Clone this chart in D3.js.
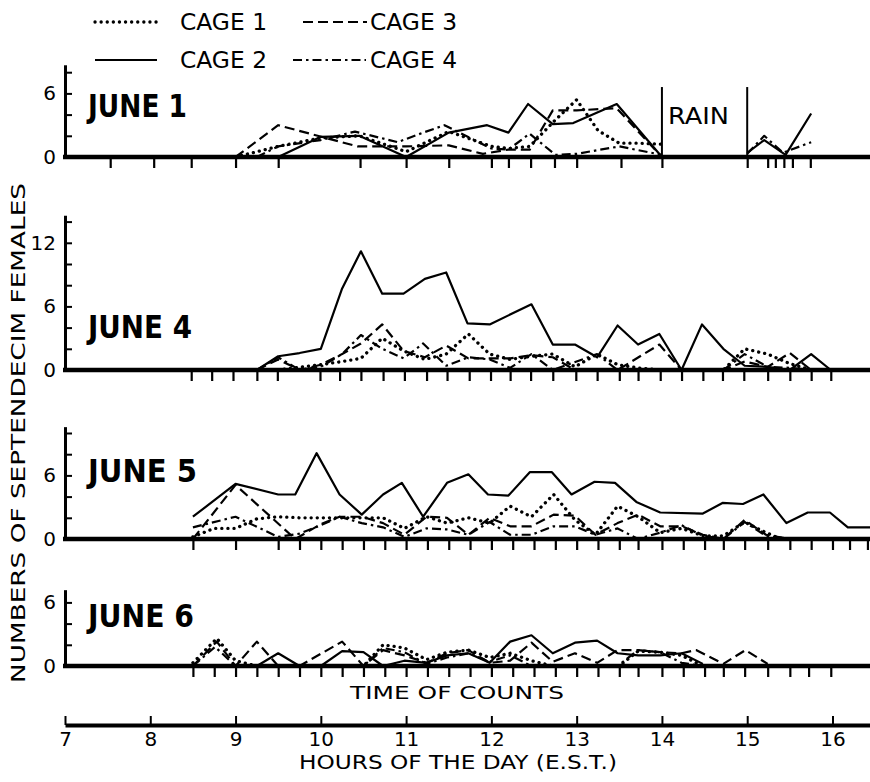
<!DOCTYPE html>
<html><head><meta charset="utf-8">
<script src="https://cdn.jsdelivr.net/npm/d3@7"></script>
<style>
html,body{margin:0;padding:0;background:#fff;}
svg{display:block;}
text{font-family:"DejaVu Sans",sans-serif;fill:#000;}
</style></head><body>
<svg id="chart" width="870" height="782"></svg>
<script>
// Hours of the day (E.S.T.) on the shared time axis
const hourTicks = [7, 8, 9, 10, 11, 12, 13, 14, 15, 16];
const days = ["JUNE 1", "JUNE 4", "JUNE 5", "JUNE 6"];
const cages = ["CAGE 1", "CAGE 2", "CAGE 3", "CAGE 4"];

// Times at which counts were taken on each day (decimal hours)
const countsJune1 = [7.53, 8.04, 8.48, 9.0, 9.5, 10.46, 11.0, 11.5, 12.0, 12.2, 12.46, 12.74, 13.0, 13.52, 14.0, 15.0, 15.24, 15.33, 15.43, 15.53, 15.74];
const countsJune4 = [8.48, 8.72, 8.97, 9.25, 9.49, 9.99, 10.22, 10.47, 10.73, 10.98, 11.24, 11.48, 11.74, 11.99, 12.22, 12.46, 12.72, 12.99, 13.24, 13.5, 13.72, 13.98, 14.23, 14.48, 14.71, 14.96, 15.24, 15.5, 15.75, 15.98];
const countsJune5 = [8.5, 9.0, 9.5, 9.75, 10.0, 10.25, 10.5, 10.75, 11.0, 11.25, 11.5, 11.75, 12.0, 12.25, 12.5, 12.75, 13.0, 13.25, 13.5, 13.72, 14.0, 14.25, 14.5, 14.72, 14.97, 15.24, 15.5, 15.75, 16.0, 16.2, 16.41];
const countsJune6 = [8.5, 8.75, 9.0, 9.25, 9.5, 9.75, 10.0, 10.25, 10.5, 10.75, 11.0, 11.25, 11.5, 11.75, 12.0, 12.25, 12.5, 12.75, 13.0, 13.25, 13.5, 13.72, 14.0, 14.25, 14.5, 14.72, 14.97, 15.24, 15.5, 15.72, 15.98];

// Females counted per cage: [hour, number]; null breaks the line (rain)
const june1Cage1 = [[9.0,0],[9.5,1.0],[10.0,1.8],[10.45,2.0],[11.0,0.5],[11.5,2.4],[12.0,1.0],[12.2,0.8],[12.45,1.0],[12.75,3.5],[13.0,5.4],[13.25,2.5],[13.5,1.3],[13.75,1.3],[14.0,1.2]];
const june1Cage2 = [[9.5,0],[10.0,1.9],[10.45,2.0],[11.0,0],[11.5,2.3],[11.95,3.0],[12.2,2.3],[12.43,5.0],[12.72,3.1],[12.96,3.2],[13.47,5.0],[14.0,0],[14.5,null],[15.0,0.4],[15.2,1.6],[15.45,0.2],[15.75,4.1]];
const june1Cage3 = [[9.0,0],[9.5,3.0],[10.43,1.0],[11.0,1.0],[11.5,1.1],[11.9,0.3],[12.2,0.7],[12.45,0.7],[12.72,4.4],[13.0,4.4],[13.47,4.6],[14.0,0]];
const june1Cage4 = [[9.25,0],[9.5,1.0],[10.0,1.6],[10.4,2.4],[10.9,1.4],[11.2,2.3],[11.45,3.0],[12.0,0.8],[12.2,0.7],[12.45,2.2],[12.75,0.2],[13.0,0.3],[13.5,1.0],[14.0,0.2],[14.5,null],[15.0,0.3],[15.2,2.0],[15.42,0.4],[15.75,1.4]];

const june4Cage1 = [[9.5,0],[10.0,0.5],[10.25,0.8],[10.47,1.1],[10.72,3.0],[10.97,1.8],[11.22,1.0],[11.47,1.5],[11.73,3.4],[11.98,1.5],[12.22,1.0],[12.47,1.3],[12.72,1.5],[12.98,0.3],[13.24,1.5],[13.48,0.5],[13.72,0.2],[13.97,0],[14.72,0],[14.97,2.0],[15.24,1.5],[15.5,0.6],[15.75,0]];
const june4Cage2 = [[9.25,0],[9.5,1.3],[9.75,1.6],[10.0,2.0],[10.25,7.7],[10.47,11.2],[10.72,7.2],[10.97,7.2],[11.22,8.6],[11.47,9.2],[11.72,4.4],[11.98,4.3],[12.47,6.2],[12.72,2.4],[12.98,2.4],[13.24,1.2],[13.48,4.2],[13.72,2.4],[13.97,3.4],[14.23,0],[14.47,4.3],[14.72,2.0],[14.97,0.4],[15.24,0.3],[15.5,0],[15.75,1.5],[15.98,0]];
const june4Cage3 = [[9.25,0],[9.5,1.0],[9.75,0],[10.0,0.5],[10.25,1.5],[10.47,2.5],[10.72,4.3],[10.97,1.8],[11.22,1.2],[11.47,2.3],[11.73,1.1],[12.22,1.1],[12.47,1.4],[12.72,1.2],[12.98,0],[13.48,0],[13.97,2.4],[14.23,0],[14.72,0],[14.97,0.8],[15.24,0.3],[15.5,1.6],[15.75,0]];
const june4Cage4 = [[9.25,0],[9.5,1.2],[9.75,0],[10.0,0.3],[10.25,1.5],[10.47,3.3],[10.72,2.0],[10.97,1.1],[11.2,2.5],[11.47,0.4],[11.73,1.2],[11.98,1.0],[12.22,0.2],[12.47,1.5],[12.72,0],[13.24,1.5],[13.48,0],[14.72,0],[14.97,1.5],[15.24,0.3],[15.5,0.2],[15.75,0]];

const june5Cage1 = [[8.5,0.2],[8.75,1.0],[9.0,1.0],[9.25,1.9],[9.5,2.1],[9.75,2.0],[10.0,2.0],[10.25,2.0],[10.48,2.0],[10.73,2.0],[10.98,1.0],[11.24,2.1],[11.48,1.5],[11.73,2.0],[11.98,1.5],[12.22,3.1],[12.47,2.1],[12.73,4.2],[12.98,1.8],[13.22,0.4],[13.48,3.1],[13.72,2.1],[13.98,0.6],[14.23,1.0],[14.48,0.3],[14.72,0.3],[14.97,1.6],[15.22,0.6],[15.4,0]];
const june5Cage2 = [[8.5,2.1],[9.0,5.2],[9.5,4.2],[9.7,4.2],[9.95,8.1],[10.22,4.2],[10.48,2.3],[10.73,4.2],[10.95,5.3],[11.2,2.1],[11.48,5.3],[11.73,6.1],[11.96,4.2],[12.2,4.1],[12.45,6.3],[12.71,6.3],[12.94,4.2],[13.21,5.4],[13.45,5.3],[13.7,3.5],[13.98,2.5],[14.48,2.4],[14.71,3.4],[14.95,3.3],[15.19,4.2],[15.46,1.5],[15.71,2.5],[15.97,2.5],[16.18,1.1],[16.44,1.1]];
const june5Cage3 = [[8.5,0],[9.0,5.1],[9.7,0],[10.0,1.4],[10.22,2.1],[10.48,2.1],[10.73,1.5],[10.98,0.4],[11.24,2.1],[11.48,2.0],[11.73,0.4],[11.98,2.0],[12.22,1.2],[12.47,1.2],[12.73,2.3],[12.98,2.2],[13.22,0.4],[13.48,1.5],[13.72,2.3],[13.98,1.2],[14.23,1.2],[14.48,0.4],[14.72,0],[14.97,1.8],[15.22,0.4],[15.5,0]];
const june5Cage4 = [[8.5,1.1],[9.0,2.1],[9.5,0.2],[9.75,0.5],[10.0,1.3],[10.22,2.1],[10.48,1.5],[10.73,1.1],[10.98,0.2],[11.24,1.0],[11.48,0.9],[11.73,0.4],[11.98,1.6],[12.22,0.4],[12.47,0.4],[12.73,1.2],[12.98,1.2],[13.22,0.4],[13.48,1.0],[13.72,0],[13.98,0.6],[14.23,1.3],[14.48,0.3],[14.72,0],[14.97,1.6],[15.22,0.3],[15.5,0]];

const june6Cage1 = [[8.5,0.3],[8.78,2.6],[9.0,0.5],[9.25,0],[10.5,0],[10.73,2.0],[10.98,1.7],[11.24,0.6],[11.48,1.3],[11.73,1.5],[11.98,0.8],[12.22,1.2],[12.47,0.5],[12.72,0],[13.5,0],[13.72,1.4],[13.98,1.3],[14.23,1.0],[14.48,0]];
const june6Cage2 = [[9.25,0],[9.5,1.2],[9.75,0],[10.0,0],[10.25,1.4],[10.5,1.3],[10.73,0],[10.98,0.5],[11.24,0.3],[11.48,1.0],[11.73,1.2],[11.98,0.3],[12.22,2.3],[12.47,2.9],[12.72,1.2],[12.98,2.2],[13.24,2.4],[13.48,1.2],[13.72,1.0],[13.98,1.0],[14.23,1.2],[14.48,0.2]];
const june6Cage3 = [[8.5,0],[8.78,2.3],[9.0,0],[9.25,2.3],[9.5,0],[9.75,0],[10.25,2.3],[10.5,0],[10.73,1.5],[10.98,1.0],[11.24,0.3],[11.48,1.2],[11.73,1.5],[11.98,0.3],[12.22,0.5],[12.47,2.2],[12.72,0.4],[12.98,1.2],[13.24,0.3],[13.48,1.5],[13.72,1.5],[13.98,1.3],[14.23,1.2],[14.4,1.5],[14.72,0.2],[14.98,1.5],[15.24,0.2]];
const june6Cage4 = [[8.5,0],[8.76,1.8],[9.0,0],[10.5,0],[10.73,1.7],[10.98,1.3],[11.24,0.2],[11.48,0.8],[11.73,1.2],[11.98,0.4],[12.22,1.0],[12.47,0],[13.48,0],[13.72,1.5],[13.98,1.3],[14.23,0.3],[14.48,0]];

// Labelled values on each day's count axis
const yLabelsJune1 = [0, 6];
const yLabelsJune4 = [0, 6, 12];
const yLabelsJune5 = [0, 6];
const yLabelsJune6 = [0, 6];

// ---- layout ----
const svg = d3.select("#chart");
const W = 870;
const pxPerFemale = 10.6;
const x = d3.scaleLinear().domain([7, 16.44]).range([65, 870]);

const panels = [
  {day: days[0], base: 157, top: 8.7, labels: yLabelsJune1, counts: countsJune1, series: [june1Cage1, june1Cage2, june1Cage3, june1Cage4], dayY: 106, dayLen: 99},
  {day: days[1], base: 370, top: 14.6, labels: yLabelsJune4, counts: countsJune4, series: [june4Cage1, june4Cage2, june4Cage3, june4Cage4], dayY: 327, dayLen: 104},
  {day: days[2], base: 539, top: 10.6, labels: yLabelsJune5, counts: countsJune5, series: [june5Cage1, june5Cage2, june5Cage3, june5Cage4], dayY: 471, dayLen: 109},
  {day: days[3], base: 666, top: 7.2, labels: yLabelsJune6, counts: countsJune6, series: [june6Cage1, june6Cage2, june6Cage3, june6Cage4], dayY: 616, dayLen: 106}
];

// stroke style per cage
const styles = [
  {dash: "0.1 6", width: 3.3, cap: "round"},      // cage 1 dotted
  {dash: null, width: 2.2, cap: "butt"},          // cage 2 solid
  {dash: "10 5", width: 2.2, cap: "butt"},        // cage 3 dashed
  {dash: "9 4 2.5 4", width: 2.2, cap: "butt"}    // cage 4 dash-dot
];

function applyStyle(sel, s) {
  sel.attr("fill", "none").attr("stroke", "#000")
    .attr("stroke-width", s.width).attr("stroke-linecap", s.cap)
    .attr("stroke-linejoin", "round");
  if (s.dash) sel.attr("stroke-dasharray", s.dash);
  return sel;
}

panels.forEach(p => {
  const y = d3.scaleLinear().domain([0, p.top]).range([p.base, p.base - p.top * pxPerFemale]);
  const g = svg.append("g");

  // count-time ticks under the baseline
  const tickAxis = d3.axisBottom(x).tickValues(p.counts).tickSize(11).tickFormat("");
  const ta = g.append("g").attr("transform", `translate(0,${p.base})`).call(tickAxis);
  ta.select(".domain").remove();
  ta.selectAll("line").attr("stroke", "#000").attr("stroke-width", 2.2);

  // baseline
  g.append("line").attr("x1", x(7) - 2).attr("x2", W).attr("y1", y(0)).attr("y2", y(0))
    .attr("stroke", "#000").attr("stroke-width", 4.5);

  // vertical axis with minor ticks every 2 females
  const minor = d3.range(2, p.top, 2);
  const ra = g.append("g").attr("transform", `translate(${x(7)},0)`)
    .call(d3.axisRight(y).tickValues(minor).tickSize(7).tickFormat("").tickSizeOuter(0));
  ra.select(".domain").attr("stroke", "#000").attr("stroke-width", 3);
  ra.selectAll("line").attr("stroke", "#000").attr("stroke-width", 2);

  const la = g.append("g").attr("transform", `translate(${x(7) - 3},0)`)
    .call(d3.axisLeft(y).tickValues(p.labels).tickSize(0).tickPadding(6).tickFormat(d3.format("d")));
  la.select(".domain").remove();
  la.selectAll("text").attr("font-size", 20).attr("font-family", "DejaVu Sans").attr("fill", "#000");

  // day label
  g.append("text").attr("x", 88).attr("y", p.dayY).attr("dy", "0.35em")
    .attr("font-size", 32).attr("font-weight", "bold")
    .attr("font-family", "DejaVu Sans Condensed, DejaVu Sans")
    .attr("textLength", p.dayLen).attr("lengthAdjust", "spacingAndGlyphs")
    .text(p.day);

  // cage lines
  const line = d3.line().defined(d => d[1] !== null).x(d => x(d[0])).y(d => y(d[1]));
  p.series.forEach((s, i) => {
    applyStyle(g.append("path").datum(s).attr("d", line), styles[i]);
  });

  p.y = y;
});

// rain interval on June 1
{
  const p = panels[0];
  [14, 15].forEach(h => {
    svg.append("line").attr("x1", x(h)).attr("x2", x(h))
      .attr("y1", p.y(0)).attr("y2", p.y(6.6))
      .attr("stroke", "#000").attr("stroke-width", 2);
  });
  svg.append("text").attr("x", x(14) + 6).attr("y", p.y(3.9)).attr("dy", "0.35em")
    .attr("font-size", 23).attr("textLength", 61).attr("lengthAdjust", "spacingAndGlyphs")
    .text("RAIN");
}

// legend
const legendItems = [
  {cage: 0, x1: 95, x2: 160, tx: 180, y: 22},
  {cage: 2, x1: 303, x2: 367, tx: 370, y: 22},
  {cage: 1, x1: 95, x2: 157, tx: 180, y: 60},
  {cage: 3, x1: 293, x2: 366, tx: 370, y: 60}
];
legendItems.forEach(it => {
  applyStyle(svg.append("line").attr("x1", it.x1).attr("x2", it.x2)
    .attr("y1", it.y).attr("y2", it.y), styles[it.cage]);
  svg.append("text").attr("x", it.tx).attr("y", it.y).attr("dy", "0.35em")
    .attr("font-size", 23).attr("textLength", 87).attr("lengthAdjust", "spacingAndGlyphs")
    .text(cages[it.cage]);
});

// y-axis title
svg.append("text").attr("transform", "translate(18,433) rotate(-90)")
  .attr("text-anchor", "middle").attr("dy", "0.35em")
  .attr("font-size", 19).attr("textLength", 500).attr("lengthAdjust", "spacingAndGlyphs")
  .text("NUMBERS OF SEPTENDECIM FEMALES");

// time-of-counts caption
svg.append("text").attr("x", 457).attr("y", 693).attr("dy", "0.35em")
  .attr("text-anchor", "middle").attr("font-size", 18)
  .attr("textLength", 214).attr("lengthAdjust", "spacingAndGlyphs")
  .text("TIME OF COUNTS");

// hours axis
const hoursY = 725;
const ha = svg.append("g").attr("transform", `translate(0,${hoursY})`)
  .call(d3.axisBottom(x).tickValues(hourTicks).tickSizeInner(-9).tickSizeOuter(0).tickPadding(7).tickFormat(d3.format("d")));
ha.select(".domain").attr("stroke", "#000").attr("stroke-width", 4);
ha.selectAll("line").attr("stroke", "#000").attr("stroke-width", 2);
ha.selectAll("text").attr("font-size", 20).attr("font-family", "DejaVu Sans").attr("fill", "#000");

svg.append("text").attr("x", 458).attr("y", 762).attr("dy", "0.35em")
  .attr("text-anchor", "middle").attr("font-size", 19)
  .attr("textLength", 318).attr("lengthAdjust", "spacingAndGlyphs")
  .text("HOURS OF THE DAY (E.S.T.)");
</script>
</body></html>
